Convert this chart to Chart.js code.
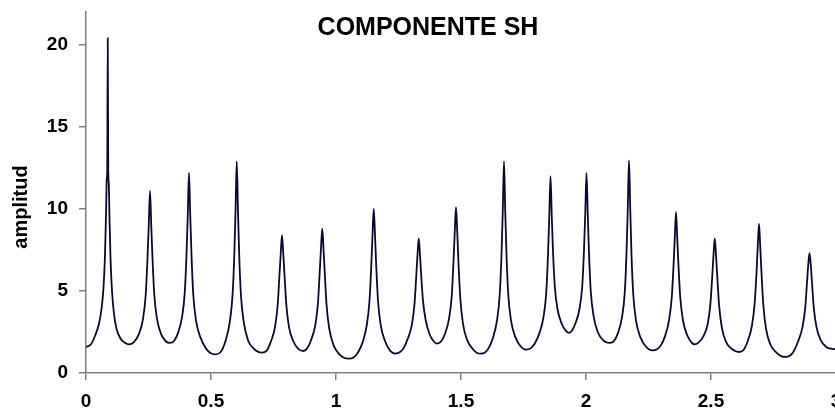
<!DOCTYPE html>
<html>
<head>
<meta charset="utf-8">
<script src="https://cdn.jsdelivr.net/npm/chart.js@4/dist/chart.umd.min.js"></script>
<style>
  html, body { margin: 0; padding: 0; background: #fff; overflow: hidden; }
  #wrap { width: 835px; height: 413px; overflow: hidden; }
</style>
</head>
<body>
<div id="wrap"><canvas id="grafico" width="836" height="413"></canvas></div>
<script>
// titulo y etiqueta del eje
const titulo = 'COMPONENTE SH';
const etiquetaY = 'amplitud';

// marcas de los ejes
const ticksX = [0, 0.5, 1, 1.5, 2, 2.5, 3];
const ticksY = [0, 5, 10, 15, 20];

// frecuencia (eje x)
const frecuencia = [
  0, 0.02, 0.037, 0.052, 0.062, 0.07, 0.076, 0.08, 0.083, 0.085, 0.087, 0.089, 0.091, 0.094, 0.098, 0.104, 0.112, 0.122, 0.138, 0.155, 0.171,
  0.19, 0.211, 0.228, 0.239, 0.246, 0.251, 0.256, 0.261, 0.266, 0.273, 0.284, 0.301, 0.318, 0.336,
  0.352, 0.367, 0.384, 0.395, 0.402, 0.407, 0.412, 0.417, 0.422, 0.429, 0.44, 0.457, 0.48, 0.498, 0.517,
  0.537, 0.558, 0.575, 0.586, 0.593, 0.598, 0.603, 0.608, 0.613, 0.62, 0.631, 0.648, 0.67, 0.687, 0.704,
  0.722, 0.739, 0.756, 0.767, 0.774, 0.779, 0.784, 0.789, 0.794, 0.801, 0.812, 0.829, 0.85, 0.87,
  0.887, 0.9, 0.917, 0.928, 0.935, 0.94, 0.945, 0.95, 0.955, 0.962, 0.973, 0.99, 1.015, 1.032, 1.05,
  1.07, 1.088, 1.106, 1.123, 1.134, 1.141, 1.146, 1.151, 1.156, 1.161, 1.168, 1.179, 1.196, 1.217, 1.237,
  1.256, 1.27, 1.286, 1.303, 1.314, 1.321, 1.326, 1.331, 1.336, 1.341, 1.348, 1.359, 1.376, 1.39, 1.404,
  1.42, 1.435, 1.452, 1.463, 1.47, 1.475, 1.48, 1.485, 1.49, 1.497, 1.508, 1.525, 1.548, 1.563, 1.578,
  1.595, 1.61, 1.627, 1.644, 1.655, 1.662, 1.667, 1.672, 1.677, 1.682, 1.689, 1.7, 1.717, 1.74, 1.76,
  1.778, 1.795, 1.813, 1.83, 1.841, 1.848, 1.853, 1.858, 1.863, 1.868, 1.875, 1.886, 1.903, 1.918, 1.932,
  1.945, 1.957, 1.974, 1.985, 1.992, 1.997, 2.002, 2.007, 2.012, 2.019, 2.03, 2.047, 2.07, 2.092,
  2.11, 2.127, 2.144, 2.155, 2.162, 2.167, 2.172, 2.177, 2.182, 2.189, 2.2, 2.217, 2.24, 2.266,
  2.284, 2.3, 2.315, 2.332, 2.343, 2.35, 2.355, 2.36, 2.365, 2.37, 2.377, 2.388, 2.405, 2.42, 2.434,
  2.45, 2.47, 2.487, 2.498, 2.505, 2.51, 2.515, 2.52, 2.525, 2.532, 2.543, 2.56, 2.585, 2.612,
  2.63, 2.647, 2.664, 2.675, 2.682, 2.687, 2.692, 2.697, 2.702, 2.709, 2.72, 2.737, 2.765, 2.78, 2.799,
  2.815, 2.83, 2.849, 2.866, 2.877, 2.884, 2.889, 2.894, 2.899, 2.904, 2.911, 2.922, 2.939, 2.96, 2.98, 3.0
];

// amplitud (eje y)
const amplitud = [
  1.59, 1.75, 2.3, 3.0, 3.9, 5.2, 7.2, 9.6, 11.8, 12.4, 20.4, 12.4, 11.6, 9.4, 7.0, 5.0, 3.6, 2.7, 2.1, 1.85, 1.75,
  1.85, 2.35, 3.3, 4.8, 7.0, 9.0, 11.1, 9.0, 7.0, 4.8, 3.3, 2.35, 1.95, 1.83,
  1.95, 2.4, 3.4, 4.9, 7.2, 9.6, 12.2, 9.6, 7.2, 4.8, 3.2, 2.2, 1.5, 1.22, 1.14,
  1.25, 1.95, 3.1, 4.7, 7.1, 9.8, 12.9, 9.8, 7.1, 4.7, 3.1, 2.0, 1.5, 1.3, 1.24,
  1.35, 1.9, 2.8, 4.2, 6.0, 7.3, 8.4, 7.3, 6.0, 4.2, 2.8, 1.95, 1.45, 1.34,
  1.55, 2.0, 2.9, 4.3, 6.2, 7.6, 8.8, 7.6, 6.1, 4.2, 2.7, 1.7, 1.12, 0.93, 0.88,
  0.95, 1.25, 1.85, 2.9, 4.4, 6.5, 8.4, 10.0, 8.4, 6.5, 4.4, 2.9, 1.95, 1.35, 1.18,
  1.28, 1.5, 2.05, 2.9, 4.2, 5.9, 7.2, 8.2, 7.2, 5.9, 4.4, 3.2, 2.3, 1.95, 1.79,
  1.92, 2.35, 3.3, 4.7, 6.8, 8.6, 10.1, 8.6, 6.7, 4.6, 3.0, 2.0, 1.45, 1.24, 1.18,
  1.24, 1.5, 2.1, 3.2, 4.8, 7.2, 9.8, 12.9, 9.8, 7.2, 4.8, 3.2, 2.2, 1.6, 1.42,
  1.5, 1.8, 2.4, 3.4, 4.9, 7.2, 9.5, 12.0, 9.6, 7.4, 5.3, 3.9, 3.0, 2.6, 2.44,
  2.6, 3.0, 3.9, 5.3, 7.5, 9.7, 12.2, 9.7, 7.3, 5.0, 3.5, 2.5, 1.98, 1.83,
  1.92, 2.4, 3.4, 4.9, 7.3, 10.0, 12.95, 10.0, 7.2, 4.8, 3.2, 2.2, 1.6, 1.38,
  1.45, 1.7, 2.2, 3.2, 4.6, 6.5, 8.2, 9.8, 8.2, 6.5, 4.6, 3.2, 2.3, 1.9, 1.75,
  1.85, 2.25, 3.0, 4.3, 5.9, 7.2, 8.2, 7.2, 5.9, 4.2, 2.8, 1.9, 1.45, 1.28,
  1.4, 1.95, 2.9, 4.3, 6.1, 7.7, 9.1, 7.7, 6.1, 4.2, 2.7, 1.75, 1.2, 1.03, 0.98,
  1.05, 1.3, 1.95, 2.8, 4.0, 5.5, 6.6, 7.3, 6.6, 5.5, 4.0, 2.8, 2.0, 1.6, 1.48, 1.45
];

const puntos = frecuencia.map((f, i) => ({ x: f, y: amplitud[i] }));

const fuente = '"Liberation Sans", Arial, sans-serif';
Chart.defaults.font.family = fuente;

// titulo y etiqueta del eje y dibujados encima del area
const textos = {
  id: 'textos',
  afterDraw(chart) {
    const ctx = chart.ctx;
    ctx.save();
    ctx.fillStyle = '#000';
    ctx.textAlign = 'center';
    ctx.textBaseline = 'middle';
    ctx.font = 'bold 25px ' + fuente;
    ctx.fillText(titulo, 428, 28);
    ctx.translate(21, 207);
    ctx.rotate(-Math.PI / 2);
    ctx.font = 'bold 20px ' + fuente;
    ctx.fillText(etiquetaY, 0, 0);
    ctx.restore();
  }
};

window.addEventListener('load', () => {
  const ctx = document.querySelector('#grafico').getContext('2d');

  new Chart(ctx, {
    type: 'line',
    data: {
      datasets: [{
        data: puntos,
        borderColor: '#0a0a30',
        borderWidth: 1.8,
        pointRadius: 0,
        fill: false,
        cubicInterpolationMode: 'monotone'
      }]
    },
    options: {
      responsive: false,
      animation: false,
      layout: { padding: { top: 12, left: 0, right: 0, bottom: 0 } },
      plugins: { legend: { display: false }, tooltip: { enabled: false } },
      scales: {
        x: {
          type: 'linear',
          min: 0,
          max: 3,
          afterBuildTicks: (s) => { s.ticks = ticksX.map(v => ({ value: v })); },
          afterFit: (s) => { s.height = 40; s.paddingLeft = 0; s.paddingRight = 0; },
          grid: { drawOnChartArea: false, color: '#808080', tickLength: 7, lineWidth: 1.5 },
          border: { color: '#808080', width: 1.5 },
          ticks: { color: '#000', padding: 10, maxRotation: 0, font: { size: 19, weight: 'bold' },
                   callback: (v) => String(v) }
        },
        y: {
          min: 0,
          max: 22,
          afterBuildTicks: (s) => { s.ticks = ticksY.map(v => ({ value: v })); },
          afterFit: (s) => { s.width = 86; s.paddingTop = 0; s.paddingBottom = 0; },
          grid: { drawOnChartArea: false, color: '#808080', tickLength: 7, lineWidth: 1.5 },
          border: { color: '#808080', width: 1.5 },
          ticks: { color: '#000', padding: 11, font: { size: 19, weight: 'bold' } }
        }
      }
    },
    plugins: [textos]
  });
});
</script>
</body>
</html>
